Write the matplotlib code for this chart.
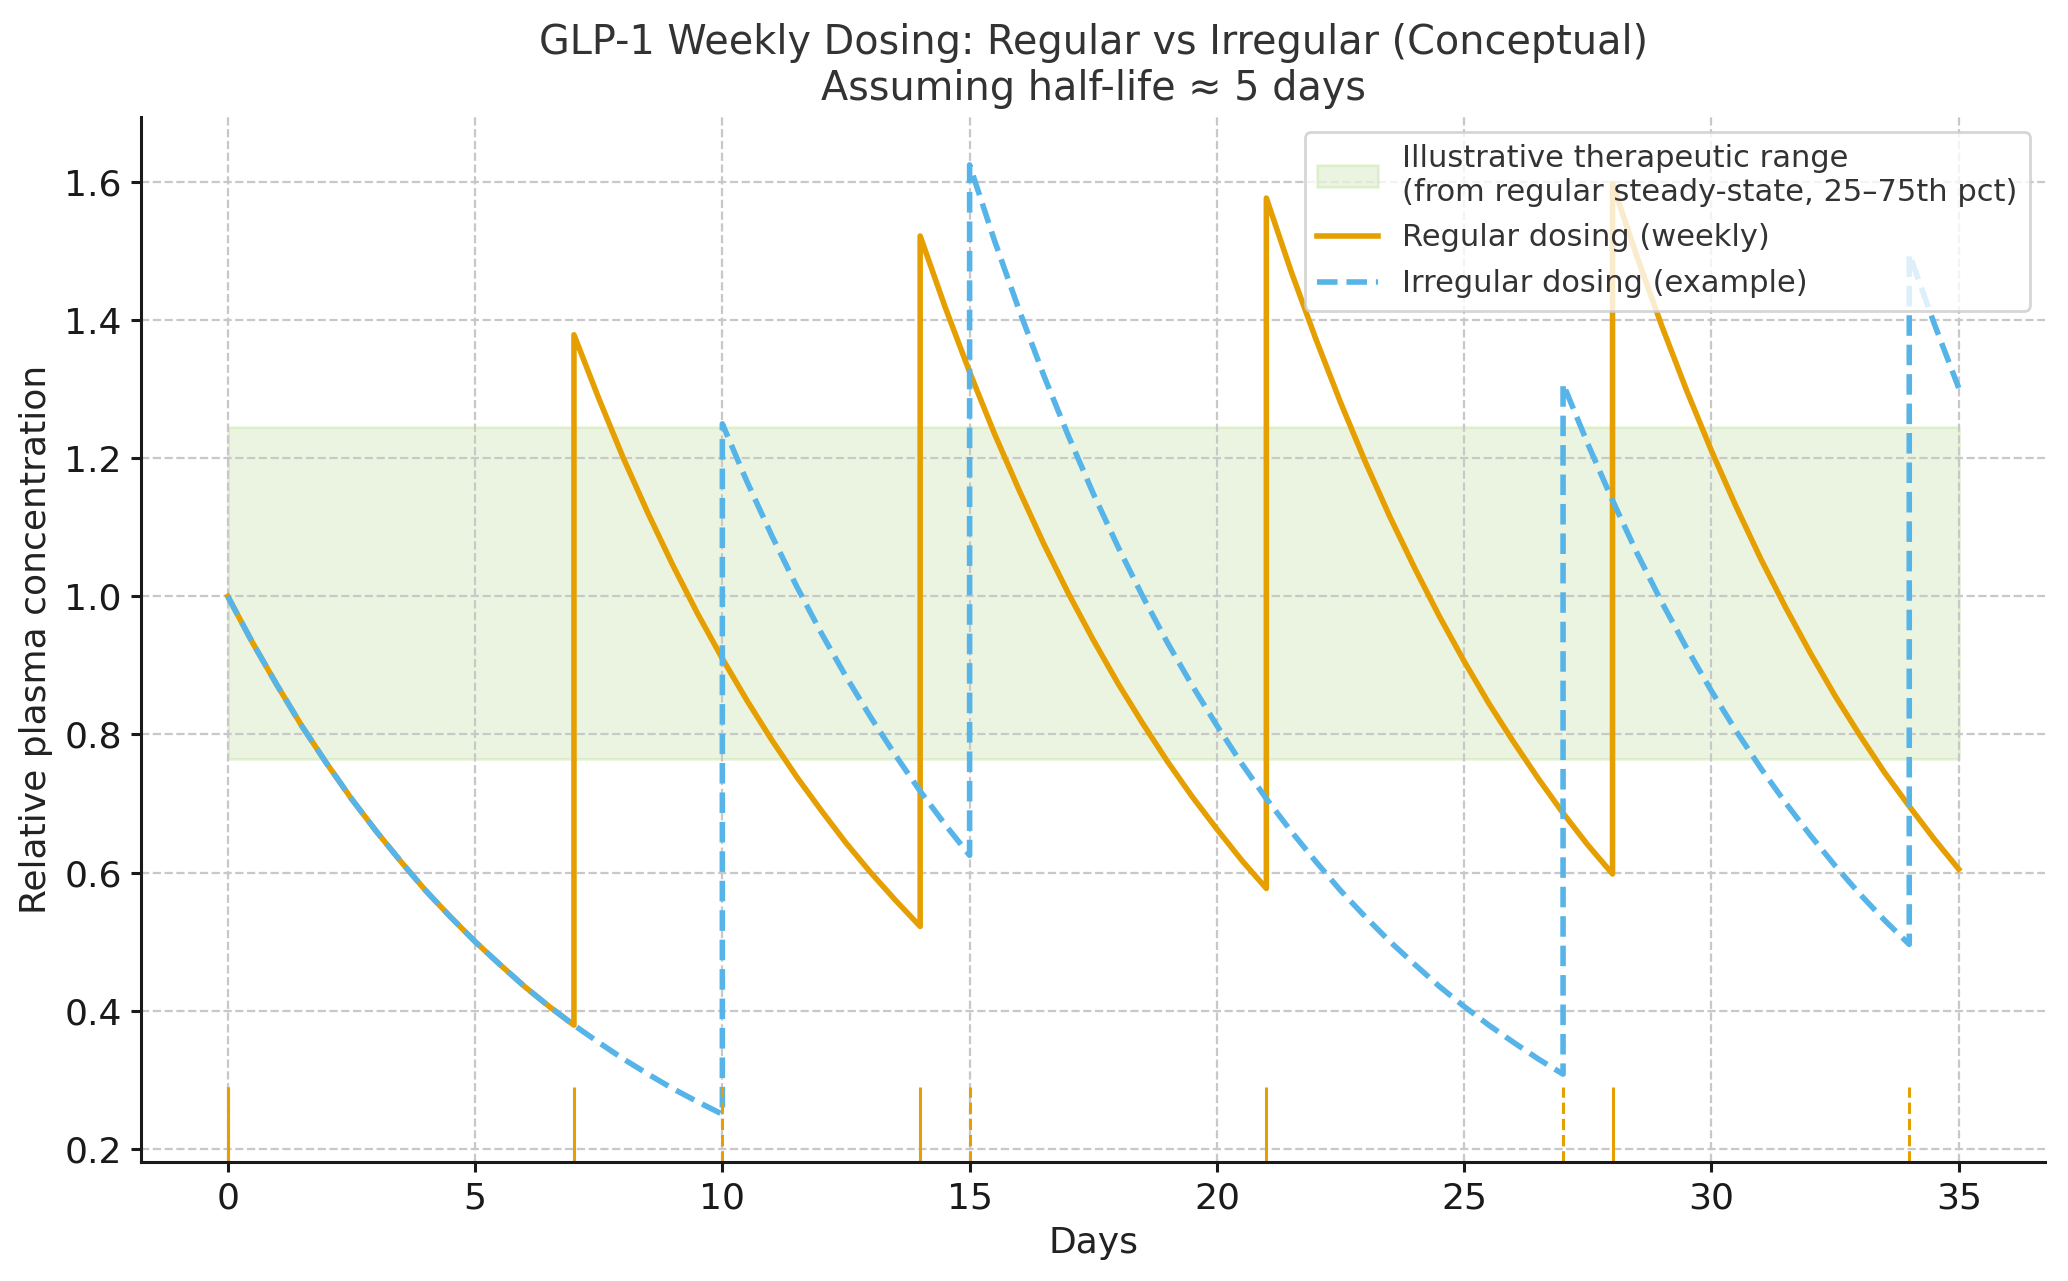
import numpy as np
import matplotlib.pyplot as plt

# concentration values read every half day, one list per dosing interval
# Regular dosing (weekly): doses at day 0, 7, 14, 21, 28
regular_starts = [0, 7, 14, 21, 28]
regular_segments = [
    [1.000, 0.933, 0.871, 0.812, 0.758, 0.707, 0.660, 0.616, 0.574, 0.536, 0.500, 0.467, 0.435, 0.406, 0.379],
    [1.379, 1.287, 1.200, 1.120, 1.045, 0.975, 0.910, 0.849, 0.792, 0.739, 0.690, 0.643, 0.600, 0.560, 0.522],
    [1.522, 1.420, 1.325, 1.236, 1.154, 1.076, 1.004, 0.937, 0.874, 0.816, 0.761, 0.710, 0.663, 0.618, 0.577],
    [1.577, 1.471, 1.373, 1.281, 1.195, 1.115, 1.041, 0.971, 0.906, 0.845, 0.789, 0.736, 0.686, 0.640, 0.598],
    [1.598, 1.491, 1.391, 1.298, 1.211, 1.130, 1.054, 0.984, 0.918, 0.856, 0.799, 0.745, 0.696, 0.649, 0.605],
]

# Irregular dosing (example): doses at day 0, 10, 15, 27, 34
irregular_starts = [0, 10, 15, 27, 34]
irregular_segments = [
    [1.000, 0.933, 0.871, 0.812, 0.758, 0.707, 0.660, 0.616, 0.574, 0.536, 0.500,
     0.467, 0.435, 0.406, 0.379, 0.354, 0.330, 0.308, 0.287, 0.268, 0.250],
    [1.250, 1.166, 1.088, 1.015, 0.947, 0.884, 0.825, 0.770, 0.718, 0.670, 0.625],
    [1.625, 1.516, 1.415, 1.320, 1.232, 1.149, 1.072, 1.000, 0.933, 0.871, 0.813, 0.758, 0.707,
     0.660, 0.616, 0.574, 0.536, 0.500, 0.467, 0.435, 0.406, 0.379, 0.354, 0.330, 0.308],
    [1.308, 1.221, 1.139, 1.062, 0.991, 0.925, 0.863, 0.805, 0.751, 0.701, 0.654, 0.610, 0.569, 0.531, 0.496],
    [1.496, 1.396, 1.302],
]

regular_dose_days = [0, 7, 14, 21, 28]
irregular_dose_days = [0, 10, 15, 27, 34]

# therapeutic range (25-75th pct of regular steady state)
range_low = 0.765
range_high = 1.245


def join_segments(starts, segments):
    days, conc = [], []
    for start, seg in zip(starts, segments):
        days.extend(start + 0.5 * np.arange(len(seg)))
        conc.extend(seg)
    return days, conc


regular_days, regular_conc = join_segments(regular_starts, regular_segments)
irregular_days, irregular_conc = join_segments(irregular_starts, irregular_segments)

orange = '#E69F00'
blue = '#56B4E9'

fig, ax = plt.subplots(figsize=(10.34, 6.405), dpi=200)
fig.subplots_adjust(left=0.0683, right=0.989, top=0.909, bottom=0.093)

ax.fill_between([0, 35], range_low, range_high, color='#7ab630', alpha=0.15,
                label='Illustrative therapeutic range\n(from regular steady-state, 25–75th pct)')
ax.plot(regular_days, regular_conc, color=orange, lw=2.0, label='Regular dosing (weekly)')
ax.plot(irregular_days, irregular_conc, color=blue, lw=2.0, linestyle='--',
        label='Irregular dosing (example)')

y_lo, y_hi = 0.181, 1.695
ax.vlines(regular_dose_days, y_lo, 0.289, color=orange, lw=1.1)
ax.vlines(irregular_dose_days, y_lo, 0.289, color=orange, lw=1.1, linestyles='--')

ax.set_xlim(-1.75, 36.75)
ax.set_ylim(y_lo, y_hi)
ax.set_xticks([0, 5, 10, 15, 20, 25, 30, 35])
ax.set_yticks([0.2, 0.4, 0.6, 0.8, 1.0, 1.2, 1.4, 1.6])

ax.grid(True, linestyle='--', color='#c8c8c8', lw=0.8)
ax.spines['top'].set_visible(False)
ax.spines['right'].set_visible(False)
for s in ['left', 'bottom']:
    ax.spines[s].set_linewidth(1.1)
    ax.spines[s].set_color('#1a1a1a')
ax.tick_params(labelsize=13, colors='#1a1a1a', width=1.1)

ax.set_xlabel('Days', fontsize=13, color='#222222')
ax.set_ylabel('Relative plasma concentration', fontsize=13, color='#222222')
ax.set_title('GLP-1 Weekly Dosing: Regular vs Irregular (Conceptual)\nAssuming half-life ≈ 5 days',
             fontsize=14.3, color='#333333', pad=6)

leg = ax.legend(loc='upper right', fontsize=11, frameon=True, edgecolor='#cccccc',
                borderaxespad=0.5, labelspacing=0.55)
for t in leg.get_texts():
    t.set_color('#333333')

plt.savefig('out.png', dpi=200)
